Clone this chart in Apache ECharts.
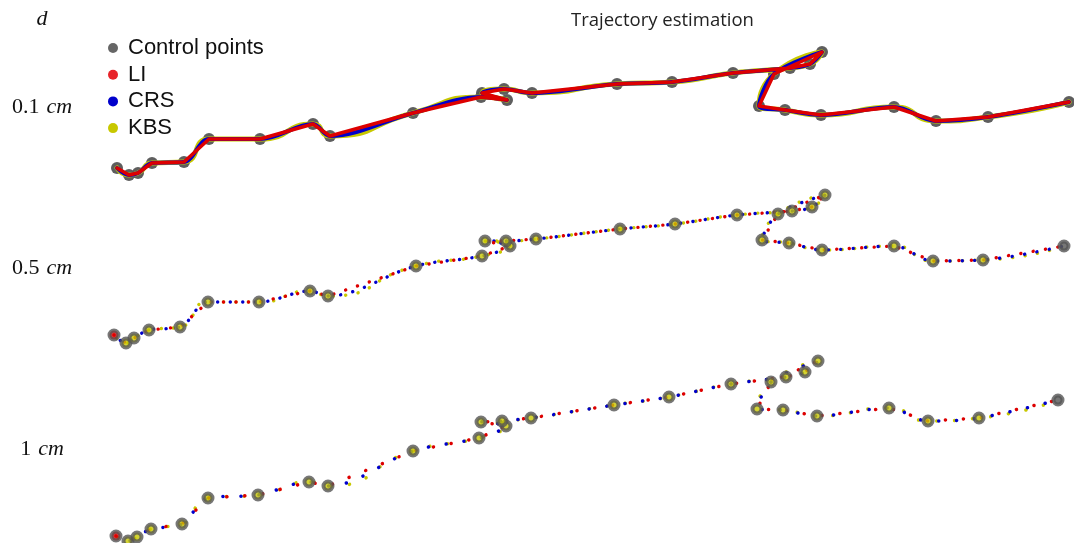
<!DOCTYPE html>
<html>
<head>
<meta charset="utf-8">
<script src="https://cdn.jsdelivr.net/npm/echarts@6/dist/echarts.min.js"></script>
<style>
  html, body { margin: 0; padding: 0; background: #ffffff; }
  #chart { width: 1074px; height: 543px; }
</style>
</head>
<body>
<div id="chart"></div>
<script>
// Legend entries: control points and the three interpolation methods
const methods = ['Control points', 'LI', 'CRS', 'KBS'];

// Sampling distances shown on the left, and the height at which each label sits
const spacings = ['0.1', '0.5', '1'];
const spacingLabelY = [43.6, 27.5, 9.4];
const axisTitleY = 52.4;

// Control points of the trajectory, sampled at d = 0.1 cm
const ctrlX_01 = [11.7, 12.9, 13.8, 15.2, 18.4, 20.9, 26.0, 31.3, 33.0, 41.3, 48.1, 50.7, 48.2, 50.4, 53.2,
  61.7, 67.2, 73.3, 79.0, 81.0, 82.2, 77.4, 75.9, 78.5, 82.1, 89.4, 93.6, 98.8, 106.9];
const ctrlY_01 = [37.5, 36.8, 37.0, 38.0, 38.1, 40.4, 40.4, 41.9, 40.7, 43.0, 44.6, 44.3, 45.0, 45.4, 45.0,
  45.9, 46.1, 47.0, 47.5, 47.9, 49.1, 46.9, 43.7, 43.3, 42.8, 43.6, 42.2, 42.6, 44.1];

// Control points, d = 0.5 cm
const ctrlX_05 = [11.4, 12.6, 13.4, 14.9, 18.0, 20.8, 25.9, 31.0, 32.8, 41.6, 48.2, 51.0, 48.5, 50.6, 53.6,
  62.0, 67.5, 73.7, 79.2, 81.2, 82.5, 77.8, 76.2, 78.9, 82.2, 89.4, 93.3, 98.3, 106.4];
const ctrlY_05 = [20.8, 20.0, 20.5, 21.3, 21.6, 24.1, 24.1, 25.2, 24.7, 27.7, 28.7, 29.7, 30.2, 30.2, 30.4,
  31.4, 31.9, 32.8, 33.2, 33.6, 34.8, 32.9, 30.3, 30.0, 29.3, 29.7, 28.2, 28.3, 29.7];

// Control points, d = 1 cm
const ctrlX_1 = [11.6, 12.8, 13.7, 15.1, 18.2, 20.8, 25.8, 30.9, 32.8, 41.3, 47.9, 50.6, 48.1, 50.2, 53.1,
  61.4, 66.9, 73.1, 78.6, 80.5, 81.8, 77.1, 75.7, 78.3, 81.7, 88.9, 92.8, 97.9, 105.8];
const ctrlY_1 = [0.7, 0.2, 0.6, 1.4, 1.9, 4.5, 4.8, 6.1, 5.7, 9.2, 10.5, 11.7, 12.1, 12.2, 12.5,
  13.8, 14.6, 15.9, 16.6, 17.1, 18.2, 16.1, 13.4, 13.3, 12.7, 13.5, 12.2, 12.5, 14.3];

// ---- styling ----
const GREY = '#555555';
const COLORS = { LI: '#dd0000', CRS: '#0000cc', KBS: '#c8c800' };
const SMOOTH = { LI: false, CRS: 0.35, KBS: 0.6 };
const DENSE_WIDTH = { LI: 3.5, CRS: 4, KBS: 5 };
// draw order: yellow below, red on top
const LINE_ORDER = ['KBS', 'CRS', 'LI'];

const rows = [
  { xs: ctrlX_01, ys: ctrlY_01, dense: true },
  { xs: ctrlX_05, ys: ctrlY_05, dense: false, period: 12.5, offsets: { LI: 0, CRS: 4.2, KBS: 8.4 }, dot: 3.4 },
  { xs: ctrlX_1,  ys: ctrlY_1,  dense: false, period: 18, offsets: { LI: 0, CRS: 2.8, KBS: 15.2 }, dot: 3.5 }
];

const series = [];
rows.forEach(function (row) {
  const pts = row.xs.map(function (x, k) { return [x, row.ys[k]]; });

  if (row.dense) {
    // control points sit underneath the continuous curves
    series.push({
      type: 'scatter', name: methods[0], data: pts, symbolSize: 12, z: 1,
      itemStyle: { color: GREY, opacity: 0.95 }, silent: true
    });
  }

  LINE_ORDER.forEach(function (m) {
    const ls = row.dense
      ? { color: COLORS[m], width: DENSE_WIDTH[m], type: 'solid', cap: 'round', join: 'round' }
      : { color: COLORS[m], width: row.dot, type: [0.1, row.period - 0.1],
          dashOffset: row.offsets[m], cap: 'round', join: 'round' };
    series.push({
      type: 'line', name: m, data: pts, smooth: SMOOTH[m], symbol: 'none', showSymbol: false,
      lineStyle: ls, itemStyle: { color: COLORS[m] }, z: 2, silent: true
    });
  });

  if (!row.dense) {
    // sparse samples: grey ring with the sample dot in the middle
    const last = pts.length - 1;
    series.push({
      type: 'scatter', name: methods[0], z: 3, silent: true, symbolSize: 9,
      itemStyle: { borderColor: GREY, borderWidth: 4 },
      data: pts.map(function (p, k) {
        return {
          value: p,
          itemStyle: { color: k === 0 ? COLORS.LI : (k === last ? GREY : COLORS.KBS) }
        };
      })
    });
  }
});

const legendColors = ['#5e5e5e', '#e8242a', '#0000cc', '#c8c800'];

const chart = echarts.init(document.getElementById('chart'), null, { renderer: 'canvas' });
chart.setOption({
  animation: false,
  backgroundColor: '#ffffff',
  title: {
    text: 'Trajectory estimation',
    left: 566, top: 6,
    textStyle: { fontFamily: 'Open Sans', fontSize: 18.5, fontWeight: 'normal', color: '#222222' }
  },
  legend: {
    data: methods.map(function (name, i) {
      return { name: name, itemStyle: { color: legendColors[i], borderWidth: 0 } };
    }),
    orient: 'vertical', left: 103, top: 32,
    icon: 'circle', itemWidth: 20, itemHeight: 10, itemGap: 4.7,
    selectedMode: false,
    textStyle: { fontFamily: 'Liberation Sans', fontSize: 22, color: '#111111' }
  },
  grid: { left: 0, right: 0, top: 0, bottom: 0 },
  xAxis: { type: 'value', min: 0, max: 107.4, show: false },
  yAxis: {
    type: 'value', min: 0, max: 54.3,
    axisLine: { show: false }, axisTick: { show: false }, splitLine: { show: false },
    axisLabel: {
      inside: true, margin: 42, align: 'center', verticalAlign: 'middle',
      customValues: [axisTitleY].concat(spacingLabelY),
      formatter: function (v) {
        if (Math.abs(v - axisTitleY) < 0.05) return '{i|d}';
        for (let i = 0; i < spacingLabelY.length; i++) {
          if (Math.abs(v - spacingLabelY[i]) < 0.05) return '{n|' + spacings[i] + '}{s|}{i|cm}';
        }
        return '';
      },
      rich: {
        n: { fontFamily: 'Liberation Serif', fontSize: 22, color: '#111111' },
        s: { width: 7 },
        i: { fontFamily: 'Liberation Serif', fontSize: 22, fontStyle: 'italic', color: '#111111' }
      }
    }
  },
  series: series
});
</script>
</body>
</html>
